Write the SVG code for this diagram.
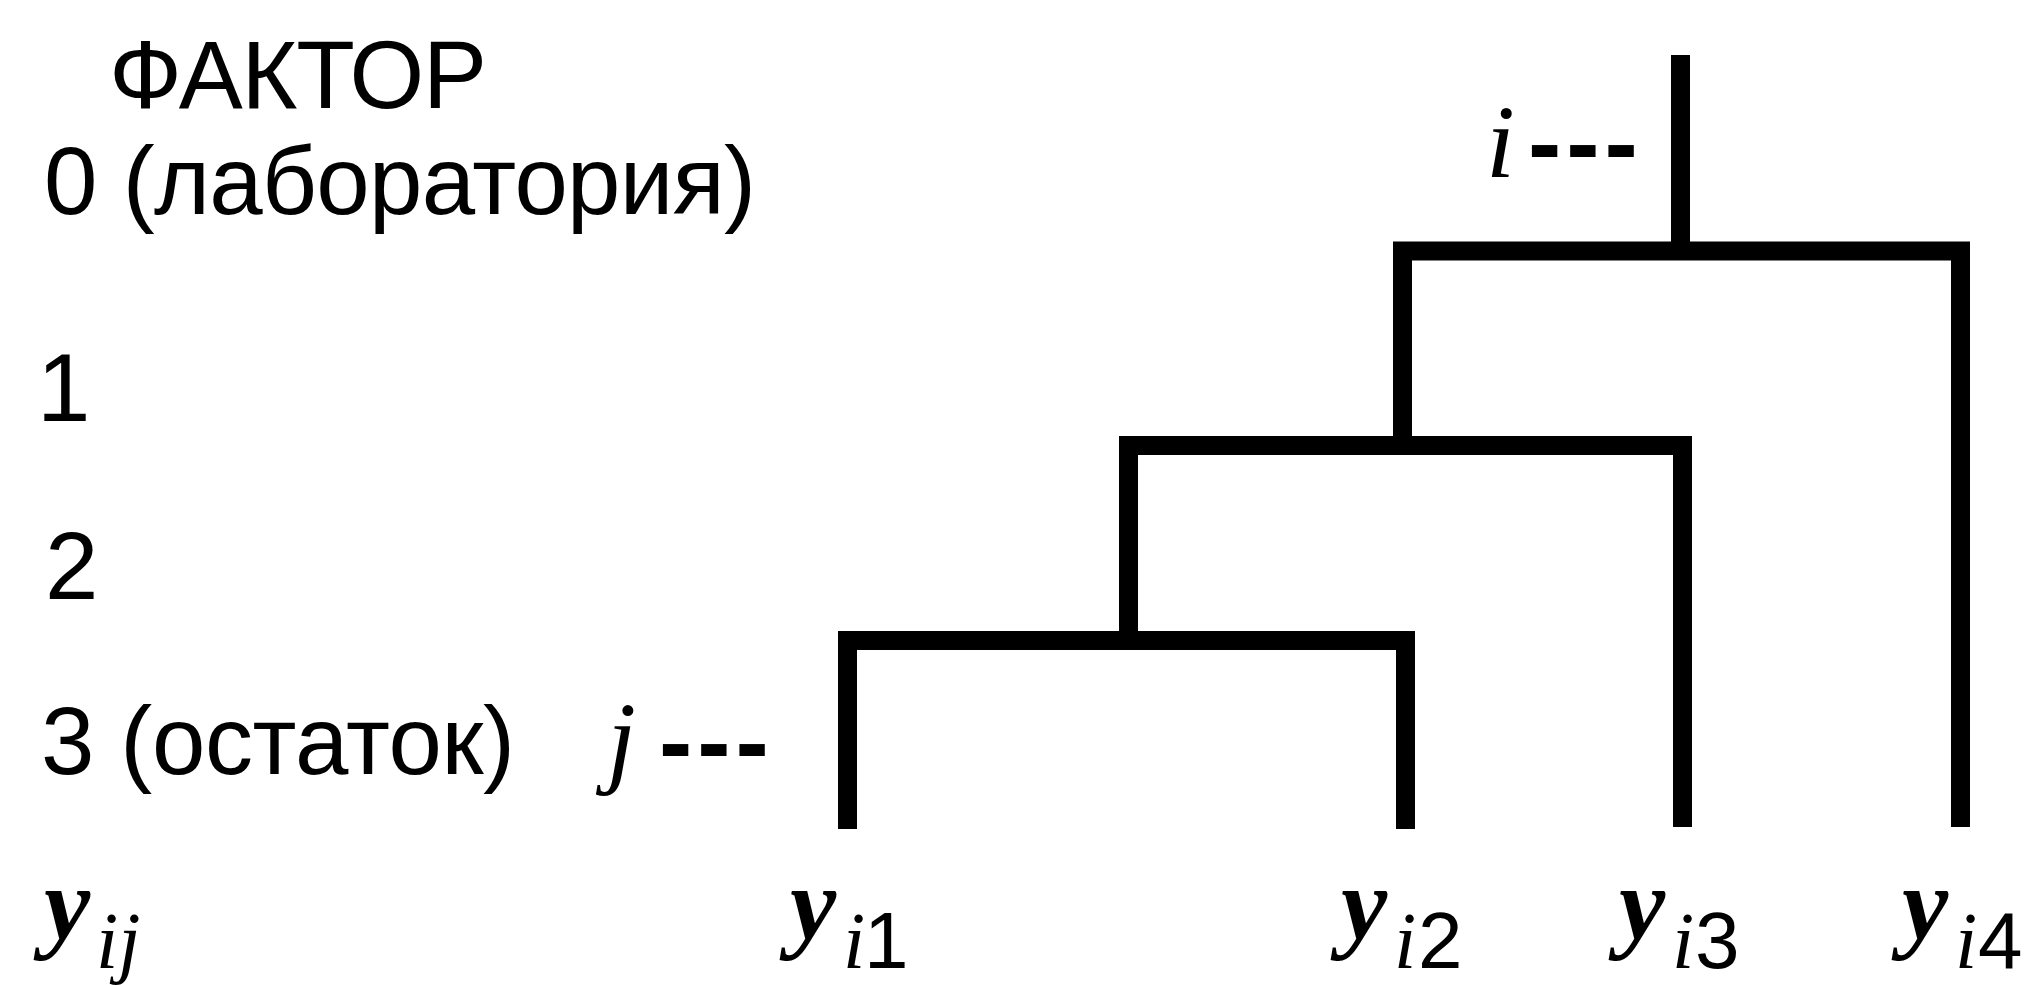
<svg xmlns="http://www.w3.org/2000/svg" width="2033" height="985" viewBox="0 0 2033 985">
<style>
.sans{font-family:"Liberation Sans",Arial,sans-serif;font-size:96px;fill:#000}
.it{font-family:"Liberation Serif","Times New Roman",serif;font-style:italic;fill:#000}
.yb{font-weight:bold}
.big{font-size:104px}
.sub{font-size:80px}
.subd{font-family:"Liberation Sans",Arial,sans-serif;font-size:80px;fill:#000}
.dash{font-family:"Liberation Sans",Arial,sans-serif;font-weight:bold;font-size:100px;letter-spacing:5px;fill:#000}
.tree{fill:none;stroke:#000;stroke-width:19;stroke-linecap:butt;stroke-linejoin:miter}
</style>
<rect width="2033" height="985" fill="#fff"/>
<g id="labels-levels">
  <g id="lbl-factor"><text class="sans" x="109" y="108" textLength="378">ФАКТОР</text></g>
  <g id="lbl-0"><text class="sans" x="44" y="214" textLength="712">0 (лаборатория)</text></g>
  <g id="lbl-1"><text class="sans" x="37" y="421">1</text></g>
  <g id="lbl-2"><text class="sans" x="45" y="599">2</text></g>
  <g id="lbl-3"><text class="sans" x="41" y="774" textLength="474">3 (остаток)</text></g>
  <g id="lbl-yij"><text class="it yb big" x="44" y="939">y</text><text x="96" y="968" class="it sub">ij</text></g>
</g>
<g id="lbl-i"><text class="it big" x="1486" y="177">i</text><text class="dash" x="1528" y="177">---</text></g>
<g id="lbl-j"><text class="it big" x="607" y="774">j</text><text class="dash" x="659" y="776">---</text></g>
<g id="leaves">
  <g id="y-i1"><text class="it yb big" x="790" y="939">y</text><text class="it sub" x="843" y="968">i</text><text class="subd" x="864" y="968">1</text></g>
  <g id="y-i2"><text class="it yb big" x="1341" y="939">y</text><text class="it sub" x="1394" y="968">i</text><text class="subd" x="1418" y="968">2</text></g>
  <g id="y-i3"><text class="it yb big" x="1619" y="939">y</text><text class="it sub" x="1672" y="968">i</text><text class="subd" x="1695" y="968">3</text></g>
  <g id="y-i4"><text class="it yb big" x="1902" y="939">y</text><text class="it sub" x="1955" y="968">i</text><text class="subd" x="1978" y="968">4</text></g>
</g>
<g id="connectors">
  <path class="tree" d="M1680.5,55 V251"/>
  <path class="tree" d="M1402.5,445.5 V251 H1960.5 V827"/>
  <path class="tree" d="M1128.5,640.5 V445.5 H1682.5 V827"/>
  <path class="tree" d="M847.5,829 V640.5 H1405.5 V829"/>
</g>
</svg>
